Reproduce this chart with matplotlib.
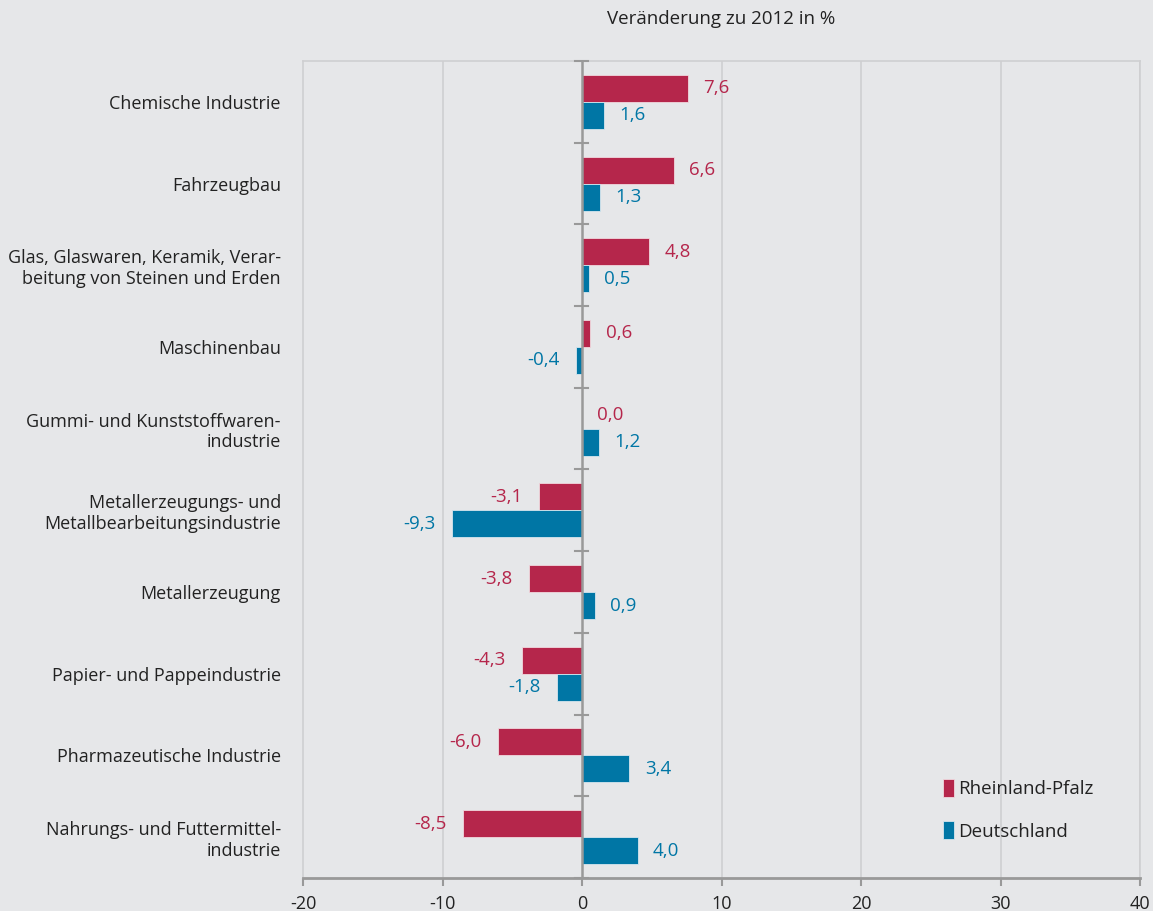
import matplotlib.pyplot as plt
import numpy as np

# Daten
kategorien = ['Chemische Industrie', 'Fahrzeugbau',
              'Glas, Glaswaren, Keramik, Verar-\nbeitung von Steinen und Erden',
              'Maschinenbau', 'Gummi- und Kunststoffwaren-\nindustrie',
              'Metallerzeugungs- und\nMetallbearbeitungsindustrie',
              'Metallerzeugung', 'Papier- und Pappeindustrie',
              'Pharmazeutische Industrie',
              'Nahrungs- und Futtermittel-\nindustrie']
rlp = [7.6, 6.6, 4.8, 0.6, 0.0, -3.1, -3.8, -4.3, -6.0, -8.5]
de = [1.6, 1.3, 0.5, -0.4, 1.2, -9.3, 0.9, -1.8, 3.4, 4.0]
serien = ['Rheinland-Pfalz', 'Deutschland']

rot = '#b5264b'
blau = '#0076a5'
bg = '#e6e7e9'

plt.rcParams['font.family'] = ['Open Sans', 'DejaVu Sans']

fig = plt.figure(figsize=(11.53, 9.11), dpi=100, facecolor=bg)
ax = fig.add_axes([303 / 1153, 1 - 878 / 911, 837 / 1153, 817 / 911])
ax.set_facecolor(bg)

y = np.arange(len(kategorien))
h = 0.33
ax.barh(y - h / 2, rlp, height=h, color=rot, edgecolor='#f0d8de', linewidth=0.6,
        label=serien[0], zorder=3)
ax.barh(y + h / 2, de, height=h, color=blau, edgecolor='#d6e6ee', linewidth=0.6,
        label=serien[1], zorder=3)

# Werte beschriften
def fmt(v):
    return ('%.1f' % v).replace('.', ',')

for i in range(len(kategorien)):
    for v, yy, c in ((rlp[i], y[i] - h / 2, rot), (de[i], y[i] + h / 2, blau)):
        if v >= 0:
            ax.annotate(fmt(v), (v, yy), xytext=(11, 0), textcoords='offset points',
                        ha='left', va='center', color=c, fontsize=13.5)
        else:
            ax.annotate(fmt(v), (v, yy), xytext=(-12, 0), textcoords='offset points',
                        ha='right', va='center', color=c, fontsize=13.5)

ax.set_xlim(-20, 40)
ax.set_ylim(len(kategorien) - 0.5, -0.5)
ax.set_xticks(range(-20, 41, 10))
ax.set_xticklabels([str(t) for t in range(-20, 41, 10)], fontsize=13, color='#222222')
ax.set_yticks(y)
ax.set_yticklabels(kategorien, fontsize=13, color='#222222')
ax.tick_params(axis='y', length=0, pad=16)
ax.tick_params(axis='x', length=6, width=1.5, color='#999999', pad=6)

for g in (-10, 10, 20, 30, 40):
    ax.axvline(g, color='#cfcfd1', linewidth=1.2, zorder=1)

# Nulllinie mit Teilstrichen
ax.axvline(0, color='#999999', linewidth=1.8, zorder=4)
for b in np.arange(-0.5, len(kategorien), 1.0):
    ax.plot([-0.5, 0.4], [b, b], color='#999999', linewidth=1.5, zorder=4,
            clip_on=False)

for s in ('top', 'left', 'right'):
    ax.spines[s].set_color('#cfcfd1')
    ax.spines[s].set_linewidth(1.2)
ax.spines['bottom'].set_color('#999999')
ax.spines['bottom'].set_linewidth(2)

ax.set_title('Veränderung zu 2012 in %', fontsize=13.5, color='#222222', pad=27)

leg = ax.legend(loc='lower right', bbox_to_anchor=(0.965, 0.025), frameon=False,
                fontsize=13.5, handlelength=0.55, handleheight=1.1,
                handletextpad=0.25, labelspacing=1.25)
for t in leg.get_texts():
    t.set_color('#222222')

fig.savefig('out.png', dpi=100, facecolor=bg)
